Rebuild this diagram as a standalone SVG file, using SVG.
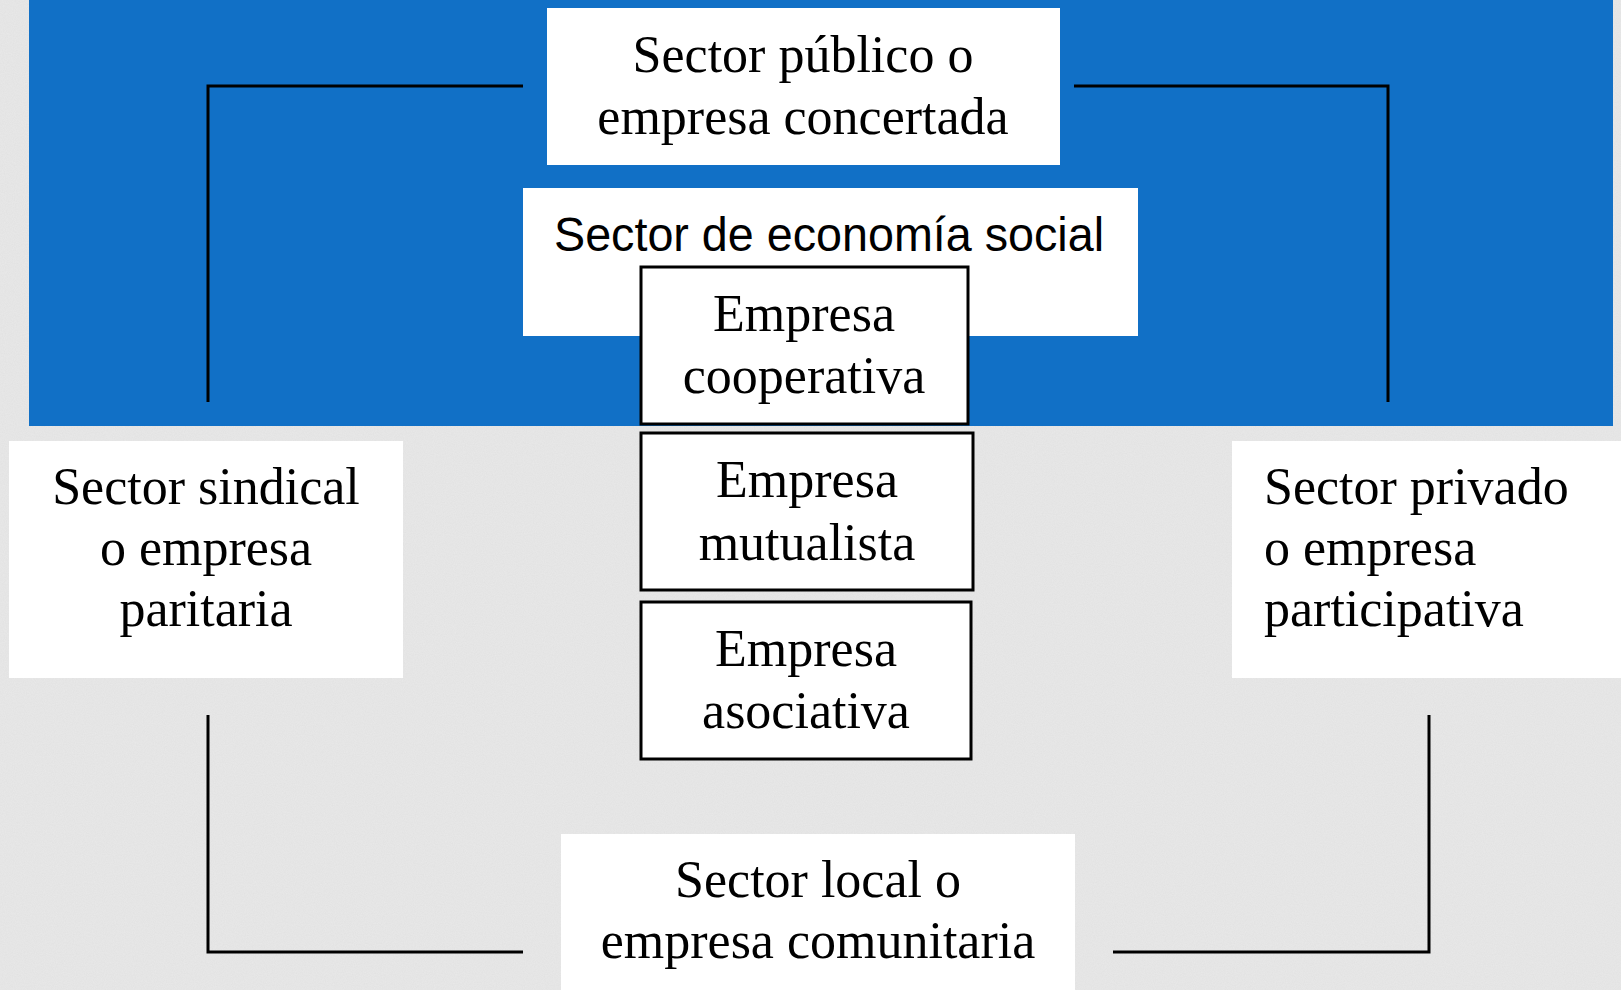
<svg xmlns="http://www.w3.org/2000/svg" width="1621" height="990" viewBox="0 0 1621 990">
  <style>
    .serif { font-family: "Liberation Serif", "Times New Roman", serif; font-size: 52px; fill: #000; }
    .sans { font-family: "Liberation Sans", Arial, sans-serif; font-size: 48px; fill: #000; }
    .plain { fill: #ffffff; }
    .boxed { fill: #ffffff; stroke: #000; stroke-width: 3; }
    .conn { fill: none; stroke: #000; stroke-width: 3; }
  </style>
  <defs>
    <filter id="paper" x="0" y="0" width="100%" height="100%">
      <feTurbulence type="fractalNoise" baseFrequency="0.9" numOctaves="2" seed="3" result="n"/>
      <feColorMatrix in="n" type="matrix" values="0 0 0 0 0.86  0 0 0 0 0.86  0 0 0 0 0.86  0 0 0 -1.2 1.1" result="g"/>
      <feComposite in="g" in2="SourceGraphic" operator="in"/>
    </filter>
  </defs>

  <rect id="background" x="0" y="0" width="1621" height="990" fill="#e2e2e2"/>
  <rect x="0" y="0" width="1621" height="990" fill="#d6d6d6" opacity="0.5" filter="url(#paper)"/>
  <rect id="band" x="29" y="0" width="1584" height="426" fill="#1170c6"/>

  <g id="connectors">
    <polyline class="conn" points="523,86 208,86 208,402"/>
    <polyline class="conn" points="1074,86 1388,86 1388,402"/>
    <polyline class="conn" points="208,715 208,952 523,952"/>
    <polyline class="conn" points="1113,952 1429,952 1429,715"/>
  </g>

  <g id="sector-publico">
    <rect class="plain" x="547" y="8" width="513" height="157"/>
    <text class="serif" x="803" y="72" text-anchor="middle">Sector público o</text>
    <text class="serif" x="803" y="134" text-anchor="middle">empresa concertada</text>
  </g>

  <g id="sector-economia-social">
    <rect class="plain" x="523" y="188" width="615" height="148"/>
    <text class="sans" x="554" y="251" textLength="550" lengthAdjust="spacingAndGlyphs">Sector de economía social</text>
  </g>

  <g id="empresa-cooperativa">
    <rect class="boxed" x="641" y="267" width="327" height="157"/>
    <text class="serif" x="804" y="331" text-anchor="middle">Empresa</text>
    <text class="serif" x="804" y="393" text-anchor="middle">cooperativa</text>
  </g>

  <g id="empresa-mutualista">
    <rect class="boxed" x="641" y="433" width="332" height="157"/>
    <text class="serif" x="807" y="497" text-anchor="middle">Empresa</text>
    <text class="serif" x="807" y="560" text-anchor="middle">mutualista</text>
  </g>

  <g id="empresa-asociativa">
    <rect class="boxed" x="641" y="602" width="330" height="157"/>
    <text class="serif" x="806" y="666" text-anchor="middle">Empresa</text>
    <text class="serif" x="806" y="728" text-anchor="middle">asociativa</text>
  </g>

  <g id="sector-sindical">
    <rect class="plain" x="9" y="441" width="394" height="237"/>
    <text class="serif" x="206" y="504" text-anchor="middle">Sector sindical</text>
    <text class="serif" x="206" y="565" text-anchor="middle">o empresa</text>
    <text class="serif" x="206" y="626" text-anchor="middle">paritaria</text>
  </g>

  <g id="sector-privado">
    <rect class="plain" x="1232" y="441" width="389" height="237"/>
    <text class="serif" x="1264" y="504">Sector privado</text>
    <text class="serif" x="1264" y="565">o empresa</text>
    <text class="serif" x="1264" y="626">participativa</text>
  </g>

  <g id="sector-local">
    <rect class="plain" x="561" y="834" width="514" height="156"/>
    <text class="serif" x="818" y="897" text-anchor="middle">Sector local o</text>
    <text class="serif" x="818" y="958" text-anchor="middle">empresa comunitaria</text>
  </g>
</svg>
